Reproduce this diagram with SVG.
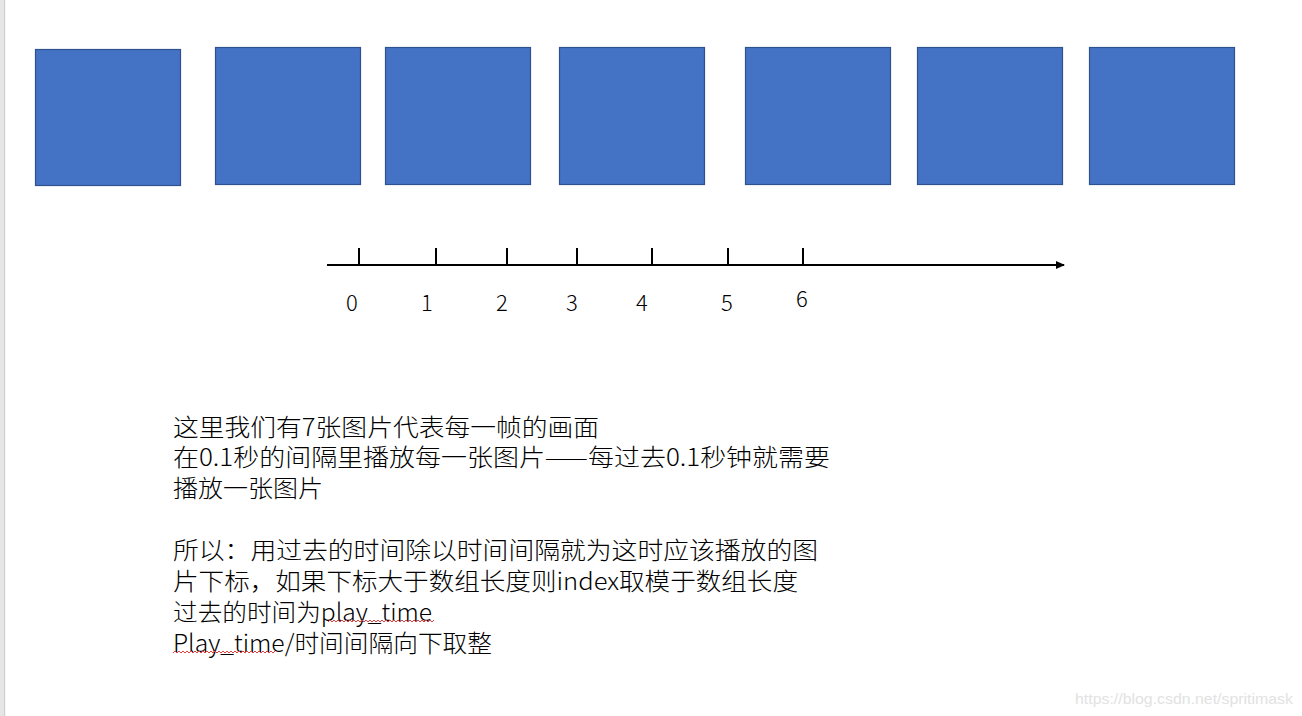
<svg xmlns="http://www.w3.org/2000/svg" width="1302" height="716" viewBox="0 0 1302 716">
  <style>
    .frame { fill: #4472C4; stroke: #2F528F; stroke-width: 1.2; }
    .axis { stroke: #000; stroke-width: 2; fill: none; }
    .num { font-family: "Noto Sans CJK SC", "Liberation Sans", sans-serif; font-size: 22px; font-weight: 300; fill: #000; text-anchor: middle; }
    .txt { font-family: "Noto Sans CJK SC", "Liberation Sans", sans-serif; font-size: 24px; font-weight: 300; fill: #000; }
    .squig { stroke: #E04040; stroke-width: 1; fill: none; }
    .wm { font-family: "Liberation Sans", Arial, sans-serif; font-size: 15px; fill: #E2E2E2; }
  </style>
  <defs>
    <marker id="arrow" markerWidth="10" markerHeight="10" refX="8" refY="5" orient="auto" markerUnits="userSpaceOnUse">
      <path d="M0,1 L9,5 L0,9 Z" fill="#000"/>
    </marker>
  </defs>
  <rect x="0" y="0" width="1302" height="716" fill="#FFFFFF"/>
  <rect x="0" y="0" width="4" height="716" fill="#E6E6E6"/>
  <rect x="4" y="0" width="1.2" height="716" fill="#CFCFCF"/>

  <g id="frames">
    <g id="frame0"><rect class="frame" x="35.5" y="49.5" width="145" height="136"/></g>
    <g id="frame1"><rect class="frame" x="215.5" y="47.5" width="145" height="137"/></g>
    <g id="frame2"><rect class="frame" x="385.5" y="47.5" width="145" height="137"/></g>
    <g id="frame3"><rect class="frame" x="559.5" y="47.5" width="145" height="137"/></g>
    <g id="frame4"><rect class="frame" x="745.5" y="47.5" width="145" height="137"/></g>
    <g id="frame5"><rect class="frame" x="917.5" y="47.5" width="145" height="137"/></g>
    <g id="frame6"><rect class="frame" x="1089.5" y="47.5" width="145" height="137"/></g>
  </g>

  <g id="connectors">
    <line class="axis" x1="327" y1="265" x2="1064" y2="265" marker-end="url(#arrow)"/>
    <line class="axis" x1="359" y1="248" x2="359" y2="265"/>
    <line class="axis" x1="436" y1="248" x2="436" y2="265"/>
    <line class="axis" x1="507" y1="248" x2="507" y2="265"/>
    <line class="axis" x1="577" y1="248" x2="577" y2="265"/>
    <line class="axis" x1="652" y1="248" x2="652" y2="265"/>
    <line class="axis" x1="728" y1="248" x2="728" y2="265"/>
    <line class="axis" x1="803" y1="248" x2="803" y2="265"/>
  </g>

  <g id="tick-labels">
    <text class="num" x="352" y="311">0</text>
    <text class="num" x="427" y="311">1</text>
    <text class="num" x="502" y="311">2</text>
    <text class="num" x="572" y="311">3</text>
    <text class="num" x="642" y="311">4</text>
    <text class="num" x="727" y="311">5</text>
    <text class="num" x="802" y="307">6</text>
  </g>

  <g id="description">
    <text class="txt" x="173" y="436" textLength="426" lengthAdjust="spacingAndGlyphs">这里我们有7张图片代表每一帧的画面</text>
    <text class="txt" x="173" y="466" textLength="657" lengthAdjust="spacingAndGlyphs">在0.1秒的间隔里播放每一张图片——每过去0.1秒钟就需要</text>
    <text class="txt" x="173" y="497" textLength="150" lengthAdjust="spacingAndGlyphs">播放一张图片</text>
    <text class="txt" x="173" y="559" textLength="645" lengthAdjust="spacingAndGlyphs">所以：用过去的时间除以时间间隔就为这时应该播放的图</text>
    <text class="txt" x="173" y="590" textLength="625" lengthAdjust="spacingAndGlyphs">片下标，如果下标大于数组长度则index取模于数组长度</text>
    <text class="txt" x="173" y="621" textLength="259" lengthAdjust="spacingAndGlyphs">过去的时间为play_time</text>
    <text class="txt" x="173" y="652" textLength="319" lengthAdjust="spacingAndGlyphs">Play_time/时间间隔向下取整</text>
    <path class="squig" d="M328,622 l2,-2 l2,2 l2,-2 l2,2 l2,-2 l2,2 l2,-2 l2,2 l2,-2 l2,2 l2,-2 l2,2 l2,-2 l2,2 l2,-2 l2,2 l2,-2 l2,2 l2,-2 l2,2 l2,-2 l2,2 l2,-2 l2,2 l2,-2 l2,2 l2,-2 l2,2 l2,-2 l2,2 l2,-2 l2,2 l2,-2 l2,2 l2,-2 l2,2 l2,-2 l2,2 l2,-2 l2,2 l2,-2 l2,2 l2,-2 l2,2 l2,-2 l2,2 l2,-2 l2,2 l2,-2 l2,2 l2,-2 l2,2 l2,-2"/>
    <path class="squig" d="M173,653 l2,-2 l2,2 l2,-2 l2,2 l2,-2 l2,2 l2,-2 l2,2 l2,-2 l2,2 l2,-2 l2,2 l2,-2 l2,2 l2,-2 l2,2 l2,-2 l2,2 l2,-2 l2,2 l2,-2 l2,2 l2,-2 l2,2 l2,-2 l2,2 l2,-2 l2,2 l2,-2 l2,2 l2,-2 l2,2 l2,-2 l2,2 l2,-2 l2,2 l2,-2 l2,2 l2,-2 l2,2 l2,-2 l2,2 l2,-2 l2,2 l2,-2 l2,2 l2,-2 l2,2 l2,-2 l2,2 l2,-2"/>
  </g>

  <text class="wm" x="1075" y="704" textLength="218" lengthAdjust="spacingAndGlyphs">https://blog.csdn.net/spritimask</text>
</svg>
